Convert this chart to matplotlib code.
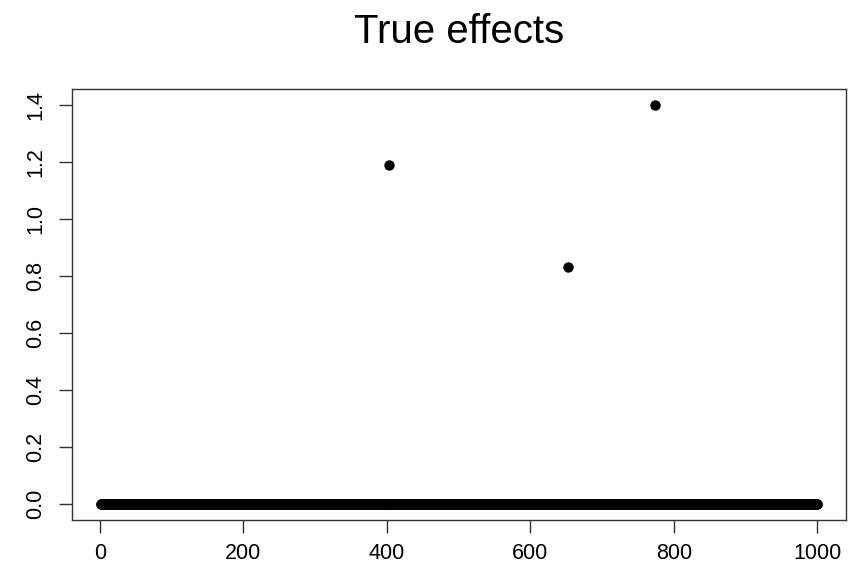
import numpy as np
import matplotlib
matplotlib.use("Agg")
import matplotlib.pyplot as plt

plt.rcParams['font.family'] = ['Liberation Sans', 'DejaVu Sans']

# data: 1000 effects, all zero except three
n = 1000
effect_idx = [403, 653, 773]
effect_vals = [1.19, 0.83, 1.40]
x_ticks = [0, 200, 400, 600, 800, 1000]
y_ticks = [0.0, 0.2, 0.4, 0.6, 0.8, 1.0, 1.2, 1.4]

idx = np.arange(1, n + 1)
effects = np.zeros(n)
for i, v in zip(effect_idx, effect_vals):
    effects[i - 1] = v

fig = plt.figure(figsize=(8.59, 5.72), dpi=100)
ax = fig.add_axes([0.0838, 0.0909, 0.9012, 0.7535])

ax.plot(idx, effects, 'o', color='black', markersize=7.5, markeredgewidth=0)

# R style ranges (4% extension)
ax.set_xlim(1 - 0.04 * 999, 1000 + 0.04 * 999)
ax.set_ylim(-0.04 * 1.4, 1.4 + 0.04 * 1.4)
ax.set_xticks(x_ticks)
ax.set_xticklabels([str(t) for t in x_ticks])
ax.set_yticks(y_ticks)
ax.set_yticklabels(['%.1f' % t for t in y_ticks], rotation=90, va='center')
ax.tick_params(axis='both', length=9.5, width=1, labelsize=15.5, color='#333333')
ax.tick_params(axis='x', pad=7)
ax.tick_params(axis='y', pad=9)
for s in ax.spines.values():
    s.set_color('#333333')
    s.set_linewidth(1)

# title centred over the plot region like R does
fig.text(0.5345, 0.944, 'True effects', ha='center', va='center', fontsize=29)

fig.savefig('out.png', dpi=100)
